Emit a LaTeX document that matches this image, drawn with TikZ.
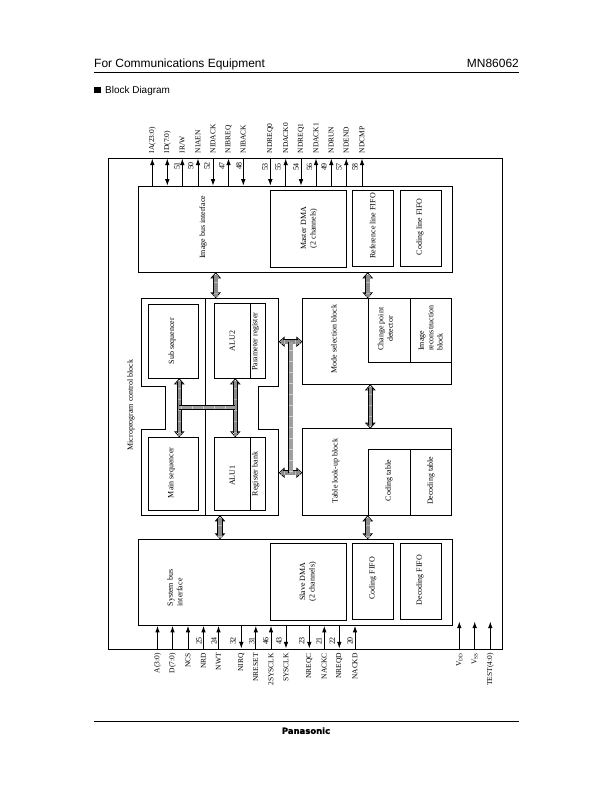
\documentclass[tikz,border=0pt]{standalone}
\usepackage{fontspec}
\setmainfont{Liberation Serif}
\newfontfamily\headfont{Liberation Sans}
\newfontfamily\logofont[BoldFeatures={FakeBold=1.5}]{DejaVu Sans}
\usepackage{xcolor}
\usetikzlibrary{arrows.meta,fit}

\tikzset{
	blockbox/.style={draw, line width=.9bp, inner sep=0pt, outer sep=0pt},
	blocktext/.style={rotate=90, inner sep=0pt, align=center, font=\fontsize{8}{9.5}\selectfont},
	pintop/.style={rotate=90, anchor=west, inner sep=0pt, font=\fontsize{7.5}{9}\selectfont},
	pinbot/.style={rotate=90, anchor=east, inner sep=0pt, font=\fontsize{7.5}{9}\selectfont},
	pinnum/.style={rotate=90, inner sep=0pt, font=\fontsize{8}{9}\selectfont},
	pinline/.style={line width=.9bp, -{Latex[length=6.5bp,width=4.6bp]}, shorten >=.6bp},
	pinboth/.style={line width=.9bp, {Latex[length=6.5bp,width=4.6bp]}-{Latex[length=6.5bp,width=4.6bp]}, shorten >=.6bp, shorten <=.6bp},
	busarrow/.style={
		preaction={draw=black, line width=.8bp, {Triangle[open,fill=white,length=6bp,width=10.5bp]}-{Triangle[open,fill=white,length=6bp,width=10.5bp]}},
		preaction={draw=black, line width=5.2bp, shorten >=4bp, shorten <=4bp},
		preaction={draw=gray!55, line width=3.6bp, shorten >=2.5bp, shorten <=2.5bp},
		preaction={draw=gray!90, line width=3.6bp, dash pattern=on .5bp off .6bp, shorten >=2.5bp, shorten <=2.5bp}},
	busbar/.style={
		preaction={draw=black, line width=5bp},
		preaction={draw=gray!35, line width=3.6bp},
		preaction={draw=gray!75, line width=3.6bp, dash pattern=on .5bp off .6bp}}
}

\begin{document}
\begin{tikzpicture}[x=1bp, y=-1bp]
	\useasboundingbox (0,0) rectangle (612,792);

	% page head and foot
	\node[anchor=base west, inner sep=0pt, font=\headfont\fontsize{12}{14}\selectfont] (headleft) at (94,68) {For Communications Equipment};
	\node[anchor=base east, inner sep=0pt, font=\headfont\fontsize{12}{14}\selectfont] (headright) at (519,68) {MN86062};
	\draw[line width=.9bp] (94,72) -- (519,72);
	\fill (94.3,87.3) rectangle (100.8,93.4);
	\node[anchor=base west, inner sep=0pt, font=\headfont\fontsize{10}{12}\selectfont] (section) at (105,93) {Block Diagram};
	\draw[line width=.9bp] (94,721.3) -- (519,721.3);
	\node[inner sep=0pt, font=\logofont\bfseries\fontsize{8.5}{10}\selectfont] (logo) at (306,730.7) {Panasonic};

	% outer frame
	\node[blockbox, fit={(108.3,158) (502,649)}] (outer) {};

	% image bus side
	\node[blockbox, fit={(138.3,186.3) (452.3,272.3)}] (imgbus) {};
	\node[blockbox, fit={(270.7,190.3) (346.7,267)}] (master) {};
	\node[blockbox, fit={(352.3,190.3) (393.7,266.3)}] (reffifo) {};
	\node[blockbox, fit={(400.3,190.3) (441.3,266.3)}] (codeline) {};
	\node[blocktext] (imgbuslab) at (203.3,227.3) {Image bus interface};
	\node[blocktext] (masterlab) at (309,228.5) {Master DMA\\(2 channels)};
	\node[blocktext] (reffifolab) at (372.5,226) {Reference line FIFO};
	\node[blocktext] (codelinelab) at (420,226.7) {Coding line FIFO};

	% microprogram control block
	\node[fit={(141.3,298.3) (278.7,515.3)}, inner sep=0pt, outer sep=0pt] (micro) {};
	\draw[line width=.9bp] (141.3,298.3) -- (278.7,298.3) -- (278.7,386.3) -- (258.7,386.3) -- (258.7,429.3) -- (278.7,429.3) -- (278.7,515.3) -- (141.3,515.3) -- (141.3,429.3) -- (165.3,429.3) -- (165.3,386.3) -- (141.3,386.3) -- cycle;
	\draw[line width=.9bp] (205.3,298.3) -- (205.3,515.3);
	\node[blockbox, fit={(148.3,304.3) (198.7,378.3)}] (subseq) {};
	\node[blockbox, fit={(214.3,303.3) (265.3,378.3)}] (alutwo) {};
	\draw[line width=.9bp] (250.3,303.3) -- (250.3,378.3);
	\node[blockbox, fit={(148.3,437.3) (198.7,510.7)}] (mainseq) {};
	\node[blockbox, fit={(214.3,437.3) (265.3,510.7)}] (aluone) {};
	\draw[line width=.9bp] (250.3,437.3) -- (250.3,510.7);
	\node[blocktext] (microlab) at (131,405) {Microprogram control block};
	\node[blocktext] (subseqlab) at (172.3,341) {Sub sequencer};
	\node[blocktext] (alutwolab) at (232.3,341) {ALU2};
	\node[blocktext] (paramlab) at (255.7,341.7) {Parameter register};
	\node[blocktext] (mainseqlab) at (171.5,472.7) {Main sequencer};
	\node[blocktext] (aluonelab) at (232.3,475.7) {ALU1};
	\node[blocktext] (regbanklab) at (255.7,474) {Register bank};

	% mode selection and table look-up
	\node[blockbox, fit={(302.3,298.3) (451.7,384.3)}] (mode) {};
	\node[blockbox, fit={(368.3,298.3) (451.7,362.3)}] (change) {};
	\draw[line width=.9bp] (410.3,298.3) -- (410.3,362.3);
	\node[blockbox, fit={(302.3,428.7) (451.7,515.3)}] (table) {};
	\node[blockbox, fit={(368.3,449.3) (451.7,515.3)}] (coding) {};
	\draw[line width=.9bp] (410.3,449.3) -- (410.3,515.3);
	\node[blocktext] (modelab) at (334,339) {Mode selection block};
	\node[blocktext] (changelab) at (385.5,329) {Change point\\detector};
	\node[blocktext, align=left] (imagelab) at (430.7,328) {Image\\reconstruction\\block};
	\node[blocktext] (tablelab) at (335.7,471) {Table look-up block};
	\node[blocktext] (codinglab) at (389,480.7) {Coding table};
	\node[blocktext] (decodinglab) at (431,480.7) {Decoding table};

	% system bus side
	\node[blockbox, fit={(138.3,539.3) (452.3,625.3)}] (sysbus) {};
	\node[blockbox, fit={(270.5,543.3) (346.7,620.3)}] (slave) {};
	\node[blockbox, fit={(352.3,543.3) (393.7,619.3)}] (codefifo) {};
	\node[blockbox, fit={(400.3,543.3) (441.3,619.3)}] (decfifo) {};
	\node[blocktext, align=left] (sysbuslab) at (175,588) {System bus\\interface};
	\node[blocktext] (slavelab) at (308,581.7) {Slave DMA\\(2 channels)};
	\node[blocktext] (codefifolab) at (372.7,578.3) {Coding FIFO};
	\node[blocktext] (decfifolab) at (420,580) {Decoding FIFO};

	% internal buses
	\coordinate (busa) at (215.7,285);
	\coordinate (busb) at (367.7,285);
	\coordinate (busc) at (220,527);
	\coordinate (busd) at (367.7,527);
	\coordinate (buse) at (370.3,406);
	\coordinate (busf) at (179.3,407.3);
	\coordinate (busg) at (235.3,407.3);
	\coordinate (bush) at (290.7,341.7);
	\coordinate (busi) at (290.7,472.7);
	\path[busarrow] (imgbus.south -| busa) -- (micro.north -| busa);
	\path[busarrow] (imgbus.south -| busb) -- (mode.north -| busb);
	\path[busarrow] (micro.south -| busc) -- (sysbus.north -| busc);
	\path[busarrow] (table.south -| busd) -- (sysbus.north -| busd);
	\path[busarrow] (mode.south -| buse) -- (table.north -| buse);
	\path[busarrow] (subseq.south -| busf) -- (mainseq.north -| busf);
	\path[busarrow] (alutwo.south -| busg) -- (aluone.north -| busg);
	\path[busbar] (busf) -- (busg);
	\path[busarrow] (micro.east |- bush) -- (mode.west |- bush);
	\path[busarrow] (micro.east |- busi) -- (table.west |- busi);
	\path[busbar] (bush) -- (busi);

	% pins along the top edge
	\node[pintop] (ia) at (152.3,153.5) {IA(23:0)};
	\node[pintop] (id) at (167.3,153.5) {ID(7:0)};
	\node[pintop] (irw) at (182.3,153.5) {IR/W};
	\node[pintop] (niaen) at (198,153.5) {NIAEN};
	\node[pintop] (nidack) at (213,153.5) {NIDACK};
	\node[pintop] (nibreq) at (228.5,153.5) {NIBREQ};
	\node[pintop] (niback) at (243.3,153.5) {NIBACK};
	\node[pintop] (ndreqa) at (270.3,153.5) {NDREQ0};
	\node[pintop] (ndacka) at (285.7,153.5) {NDACK0};
	\node[pintop] (ndreqb) at (301,153.5) {NDREQ1};
	\node[pintop] (ndackb) at (316,153.5) {NDACK1};
	\node[pintop] (ndrun) at (331.3,153.5) {NDRUN};
	\node[pintop] (ndend) at (346.3,153.5) {NDEND};
	\node[pintop] (ndcmp) at (362,153.5) {NDCMP};
	\draw[pinline] (imgbus.north -| ia) -- (outer.north -| ia);
	\draw[pinboth] (imgbus.north -| id) -- (outer.north -| id);
	\draw[pinline] (imgbus.north -| irw) -- (outer.north -| irw);
	\draw[pinline] (imgbus.north -| niaen) -- (outer.north -| niaen);
	\draw[pinline] (outer.north -| nidack) -- (imgbus.north -| nidack);
	\draw[pinline] (imgbus.north -| nibreq) -- (outer.north -| nibreq);
	\draw[pinline] (outer.north -| niback) -- (imgbus.north -| niback);
	\draw[pinline] (outer.north -| ndreqa) -- (imgbus.north -| ndreqa);
	\draw[pinline] (imgbus.north -| ndacka) -- (outer.north -| ndacka);
	\draw[pinline] (outer.north -| ndreqb) -- (imgbus.north -| ndreqb);
	\draw[pinline] (imgbus.north -| ndackb) -- (outer.north -| ndackb);
	\draw[pinline] (imgbus.north -| ndrun) -- (outer.north -| ndrun);
	\draw[pinline] (imgbus.north -| ndend) -- (outer.north -| ndend);
	\draw[pinline] (imgbus.north -| ndcmp) -- (outer.north -| ndcmp);
	\node[pinnum] (n51) at (177,166) {51};
	\node[pinnum] (n50) at (190.7,166) {50};
	\node[pinnum] (n52) at (207,166) {52};
	\node[pinnum] (n47) at (222,166) {47};
	\node[pinnum] (n48) at (239,166) {48};
	\node[pinnum] (n53) at (265,167) {53};
	\node[pinnum] (n55) at (278,167) {55};
	\node[pinnum] (n54) at (296,167) {54};
	\node[pinnum] (n56) at (309.5,167) {56};
	\node[pinnum] (n49) at (324,167) {49};
	\node[pinnum] (n57) at (339,167) {57};
	\node[pinnum] (n58) at (355,167) {58};

	% pins along the bottom edge
	\node[pinbot] (addr) at (157.5,653) {A(3:0)};
	\node[pinbot] (data) at (172.5,653) {D(7:0)};
	\node[pinbot] (ncs) at (188,653) {NCS};
	\node[pinbot] (nrd) at (203.5,653) {NRD};
	\node[pinbot] (nwt) at (218.5,653) {NWT};
	\node[pinbot] (nirq) at (241.3,653) {NIRQ};
	\node[pinbot] (nreset) at (255.8,653) {NRESET};
	\node[pinbot] (twosys) at (271,653) {2SYSCLK};
	\node[pinbot] (sysclk) at (286,653) {SYSCLK};
	\node[pinbot] (nreqc) at (309.3,653) {NREQC};
	\node[pinbot] (nackc) at (324.3,653) {NACKC};
	\node[pinbot] (nreqd) at (339.3,653) {NREQD};
	\node[pinbot] (nackd) at (355,653) {NACKD};
	\node[pinbot] (vdd) at (459.3,653) {V\textsubscript{DD}};
	\node[pinbot] (vss) at (474.7,653) {V\textsubscript{SS}};
	\node[pinbot] (test) at (490.3,653) {TEST(4:0)};
	\draw[pinline] (outer.south -| addr) -- (sysbus.south -| addr);
	\draw[pinline] (outer.south -| data) -- (sysbus.south -| data);
	\draw[pinline] (outer.south -| ncs) -- (sysbus.south -| ncs);
	\draw[pinline] (outer.south -| nrd) -- (sysbus.south -| nrd);
	\draw[pinline] (outer.south -| nwt) -- (sysbus.south -| nwt);
	\draw[pinline] (sysbus.south -| nirq) -- (outer.south -| nirq);
	\draw[pinline] (outer.south -| nreset) -- (sysbus.south -| nreset);
	\draw[pinline] (outer.south -| twosys) -- (sysbus.south -| twosys);
	\draw[pinline] (sysbus.south -| sysclk) -- (outer.south -| sysclk);
	\draw[pinline] (sysbus.south -| nreqc) -- (outer.south -| nreqc);
	\draw[pinline] (outer.south -| nackc) -- (sysbus.south -| nackc);
	\draw[pinline] (sysbus.south -| nreqd) -- (outer.south -| nreqd);
	\draw[pinline] (outer.south -| nackd) -- (sysbus.south -| nackd);
	\coordinate (vddtip) at (459.3,621);
	\coordinate (vsstip) at (474.7,621);
	\coordinate (testtip) at (490.3,621);
	\draw[pinline] (outer.south -| vdd) -- (vddtip);
	\draw[pinline] (outer.south -| vss) -- (vsstip);
	\draw[pinline] (outer.south -| test) -- (testtip);
	\node[pinnum] (n25) at (199,641) {25};
	\node[pinnum] (n24) at (214,641) {24};
	\node[pinnum] (n32) at (233,641) {32};
	\node[pinnum] (n31) at (251.7,641) {31};
	\node[pinnum] (n46) at (265.7,641) {46};
	\node[pinnum] (n43) at (279,641) {43};
	\node[pinnum] (n23) at (301.7,641) {23};
	\node[pinnum] (n21) at (319,641) {21};
	\node[pinnum] (n22) at (332.3,641) {22};
	\node[pinnum] (n20) at (350,641) {20};
\end{tikzpicture}
\end{document}
